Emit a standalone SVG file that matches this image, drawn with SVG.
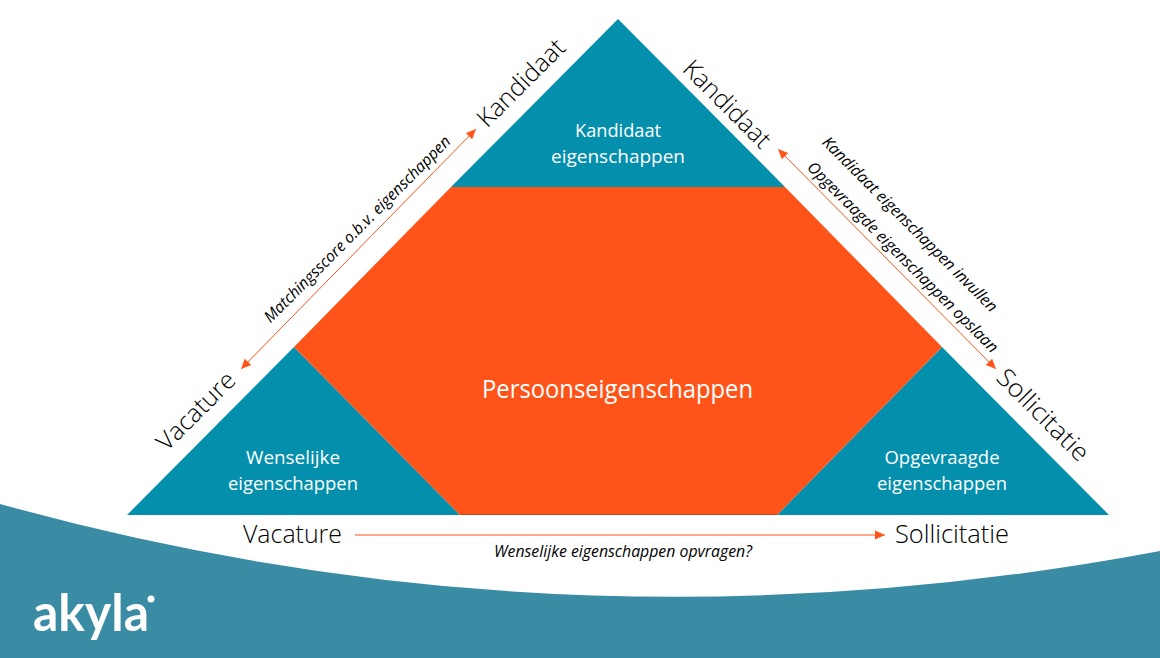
<svg xmlns="http://www.w3.org/2000/svg" width="1160" height="658" viewBox="0 0 1160 658">
<style>
text{font-family:"Open Sans","Noto Sans","Liberation Sans",sans-serif;font-weight:400;text-anchor:middle}
.t{font-size:25px;fill:#000;font-weight:300}
.w{font-size:19px;fill:#fff}
.i{font-size:16px;fill:#000;font-style:italic;font-weight:400}
.c{stroke:#FF5419;stroke-width:1;fill:none;marker-end:url(#a);marker-start:url(#b)}
.teal{fill:#048FAC}
</style>
<defs>
<marker id="a" markerUnits="userSpaceOnUse" markerWidth="12" markerHeight="10" refX="10" refY="5" orient="auto"><path d="M0,0.5L10,5L0,9.500Z" fill="#FF5419"/></marker>
<marker id="b" markerUnits="userSpaceOnUse" markerWidth="12" markerHeight="10" refX="0" refY="5" orient="auto"><path d="M10,0.5L0,5L10,9.500Z" fill="#FF5419"/></marker>
</defs>
<rect width="1160" height="658" fill="#fff"/>
<path id="wave" d="M0,504Q570,662 1160,551V658H0Z" fill="#398CA3"/>
<g id="logo"><text x="91" y="631" style="font-family:'Lato',sans-serif;font-weight:700;font-size:52px;fill:#fff" textLength="116" lengthAdjust="spacingAndGlyphs">akyla</text><circle cx="151" cy="599" r="3.5" fill="#fff"/></g>
<g id="top"><polygon class="teal" points="618,19 785,187 451,187"/><text class="w" x="618" y="137" textLength="86" lengthAdjust="spacingAndGlyphs">Kandidaat</text><text class="w" x="618" y="163" textLength="134" lengthAdjust="spacingAndGlyphs">eigenschappen</text></g>
<g id="left"><polygon class="teal" points="294,347 460,515 127,515"/><text class="w" x="293" y="464" textLength="94" lengthAdjust="spacingAndGlyphs">Wenselijke</text><text class="w" x="293" y="490" textLength="130" lengthAdjust="spacingAndGlyphs">eigenschappen</text></g>
<g id="right"><polygon class="teal" points="942,347 1109,515 777,515"/><text class="w" x="942" y="464" textLength="115" lengthAdjust="spacingAndGlyphs">Opgevraagde</text><text class="w" x="942" y="490" textLength="130" lengthAdjust="spacingAndGlyphs">eigenschappen</text></g>
<g id="center"><polygon points="451,187 785,187 942,347 777,515 460,515 294,347" fill="#FF5419"/><line x1="460" y1="514.5" x2="777" y2="514.5" stroke="#C8451A" stroke-width="1"/><text x="617.5" y="398" style="font-size:25px;fill:#fff" textLength="271" lengthAdjust="spacingAndGlyphs">Persoonseigenschappen</text></g>
<g id="connectors">
<line class="c" x1="241" y1="369" x2="476" y2="129"/>
<line class="c" x1="778" y1="149" x2="996" y2="369"/>
<line x1="355" y1="535" x2="885" y2="535" class="c" style="marker-start:none"/>
</g>
<g id="labels">
<text class="t" transform="translate(527,89) rotate(-45)">Kandidaat</text>
<text class="t" transform="translate(721,110) rotate(45)">Kandidaat</text>
<text class="t" transform="translate(202,417) rotate(-45)">Vacature</text>
<text class="t" transform="translate(1037,421) rotate(45)" textLength="119" lengthAdjust="spacingAndGlyphs">Sollicitatie</text>
<text class="t" x="292.500" y="543" textLength="99" lengthAdjust="spacingAndGlyphs">Vacature</text>
<text class="t" x="952" y="543" textLength="114" lengthAdjust="spacingAndGlyphs">Sollicitatie</text>
<text class="i" transform="translate(361,233) rotate(-45)" textLength="256" lengthAdjust="spacingAndGlyphs">Matchingsscore o.b.v. eigenschappen</text>
<text class="i" transform="translate(906,228) rotate(45)" textLength="240" lengthAdjust="spacingAndGlyphs">Kandidaat eigenschappen invullen</text>
<text class="i" transform="translate(899,261) rotate(45)" textLength="262" lengthAdjust="spacingAndGlyphs">Opgevraagde eigenschappen opslaan</text>
<text class="i" x="623" y="557" textLength="258" lengthAdjust="spacingAndGlyphs">Wenselijke eigenschappen opvragen?</text>
</g>
</svg>
